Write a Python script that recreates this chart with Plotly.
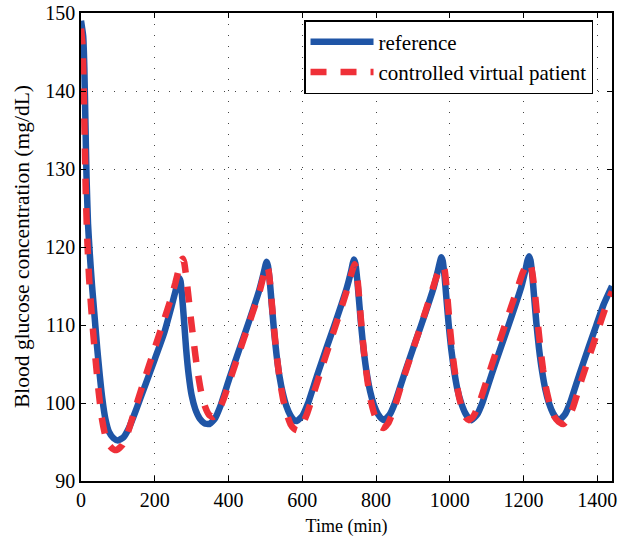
import plotly.graph_objects as go

# Reference trajectory (time in min, glucose in mg/dL)
ref_t = [0, 6, 9, 12, 15, 19, 24, 30, 37, 44, 51, 58, 66, 76, 88, 100,
         115, 130, 150, 175, 200, 225, 245, 256, 262, 267,
         270, 274, 279, 285, 292, 300, 310, 322, 335, 348,
         363, 378, 402, 428, 448, 468, 483, 494, 500, 503,
         507, 512, 517, 523, 530, 538, 547, 557, 568, 578, 586,
         601, 616, 640, 666, 686, 706, 721, 732, 737, 740,
         744, 749, 754, 760, 767, 775, 784, 794, 805, 815, 822,
         837, 852, 876, 902, 922, 942, 957, 968, 974, 977,
         981, 986, 991, 997, 1004, 1012, 1021, 1031, 1042, 1052, 1059,
         1074, 1089, 1113, 1139, 1159, 1179, 1194, 1205, 1211, 1215,
         1219, 1224, 1229, 1235, 1242, 1250, 1259, 1269, 1280, 1290, 1297,
         1312, 1327, 1351, 1377, 1397, 1417, 1440]
ref_y = [149, 147, 143, 136, 129, 123, 119, 115, 111, 107, 103.5, 100.5, 98, 96.3, 95.5, 95.2,
         95.6, 96.8, 99.2, 102.4, 105.6, 108.9, 112.3, 114.3, 115.4, 116.0,
         115.6, 113.8, 110.8, 107.0, 103.6, 101.0, 99.2, 98.0, 97.4, 97.3,
         98.0, 99.6, 103.1, 106.7, 109.4, 112.2, 114.4, 116.4, 117.6, 118.1,
         117.6, 115.6, 112.8, 109.5, 106.3, 103.5, 101.3, 99.6, 98.4, 97.8, 97.7,
         98.4, 100.0, 103.5, 107.1, 109.8, 112.6, 114.8, 116.8, 117.9, 118.4,
         117.9, 115.9, 113.1, 109.8, 106.6, 103.8, 101.5, 99.8, 98.6, 98.0, 97.8,
         98.5, 100.1, 103.6, 107.2, 109.9, 112.7, 114.9, 117.0, 118.2, 118.7,
         118.2, 116.2, 113.4, 110.1, 106.9, 104.1, 101.7, 100.0, 98.7, 98.0, 97.8,
         98.5, 100.1, 103.6, 107.2, 109.9, 112.7, 114.9, 117.0, 118.3, 118.8,
         118.3, 116.3, 113.5, 110.2, 107.0, 104.2, 101.8, 100.0, 98.7, 98.0, 97.8,
         98.5, 100.1, 103.6, 107.2, 109.9, 112.6, 115.0]

# Controlled virtual patient trajectory
vp_t = [0, 4, 7, 10, 13, 17, 22, 28, 34, 41, 48, 56, 66, 78, 90, 98,
        112, 127, 147, 172, 197, 222, 242, 256, 266, 272, 276,
        280, 285, 291, 298, 306, 315, 325, 336, 347, 358,
        372, 386, 408, 432, 452, 472, 486, 496, 500, 504,
        508, 513, 518, 524, 531, 539, 548, 558, 568, 578, 586,
        598, 612, 636, 662, 684, 704, 720, 731, 738, 742,
        746, 751, 756, 762, 769, 777, 786, 796, 806, 814, 821,
        833, 847, 870, 895, 916, 936, 952, 965, 975, 982,
        986, 991, 996, 1002, 1009, 1017, 1026, 1035, 1044, 1052,
        1064, 1078, 1101, 1126, 1147, 1167, 1183, 1197, 1208, 1216,
        1220, 1226, 1232, 1238, 1245, 1253, 1262, 1272, 1283, 1295, 1308,
        1320, 1334, 1357, 1382, 1403, 1423, 1440]
vp_y = [148, 146, 141, 134, 127, 121, 116, 112, 108.5, 104.8, 101.4, 98.2, 95.8, 94.5, 94.0, 94.0,
        94.6, 96.2, 99.3, 103.0, 106.6, 110.2, 113.1, 115.4, 117.3, 118.3, 118.5,
        118.0, 116.3, 113.8, 110.8, 107.7, 104.4, 101.6, 99.6, 98.5, 98.2,
        98.9, 100.4, 103.5, 106.9, 109.7, 112.5, 114.6, 116.5, 117.2, 117.6,
        117.1, 115.2, 112.5, 109.3, 106.0, 103.0, 100.5, 98.6, 97.3, 96.7, 96.5,
        97.0, 98.5, 102.0, 105.8, 109.0, 111.9, 114.3, 116.2, 117.3, 117.8,
        117.3, 115.3, 112.5, 109.1, 105.8, 102.8, 100.3, 98.5, 97.4, 96.9, 96.8,
        97.4, 99.0, 102.5, 106.1, 109.1, 112.0, 114.4, 116.3, 117.3, 117.6,
        117.1, 115.0, 112.2, 108.9, 105.7, 102.9, 100.6, 99.0, 98.1, 97.8,
        98.3, 99.7, 103.0, 106.6, 109.6, 112.4, 114.6, 116.6, 117.7, 118.0,
        117.7, 116.0, 113.6, 110.6, 107.4, 104.3, 101.7, 99.7, 98.3, 97.6, 97.3,
        97.9, 99.4, 102.9, 106.5, 109.5, 112.3, 114.3]

x_ticks = [0, 200, 400, 600, 800, 1000, 1200, 1400]
y_ticks = [90, 100, 110, 120, 130, 140, 150]

FONT = "Liberation Serif"

fig = go.Figure()
fig.add_trace(go.Scatter(x=ref_t, y=ref_y, mode="lines", name="reference",
                         line=dict(color="#1f55a6", width=6.5, shape="spline", smoothing=0.5)))
fig.add_trace(go.Scatter(x=vp_t, y=vp_y, mode="lines", name="controlled virtual patient",
                         line=dict(color="#ef3038", width=6.5, dash="16px,14px", shape="spline", smoothing=0.5)))

axis_common = dict(showline=True, linecolor="black", linewidth=1.5, mirror="ticks",
                   ticks="inside", ticklen=5, tickcolor="black", tickwidth=1,
                   showgrid=True, gridcolor="#444", gridwidth=1, griddash="1px,10px",
                   zeroline=False, automargin=False,
                   tickfont=dict(family=FONT, size=20, color="black"))

fig.update_xaxes(range=[0, 1440], tickvals=x_ticks,
                 title=dict(text="Time (min)", font=dict(family=FONT, size=18, color="black")),
                 **axis_common)
fig.update_yaxes(range=[90, 150], tickvals=y_ticks, **axis_common)

fig.add_annotation(text="Blood glucose concentration (mg/dL)", textangle=-90,
                   xref="paper", yref="paper", x=-0.111, y=0.5,
                   xanchor="center", yanchor="middle", showarrow=False,
                   font=dict(family=FONT, size=21.5, color="black"))

fig.update_layout(
    width=624, height=537,
    margin=dict(l=81, r=12, t=13, b=56, autoexpand=False),
    plot_bgcolor="white", paper_bgcolor="white",
    legend=dict(x=0.42, xanchor="left", y=0.985, yanchor="top",
                bgcolor="white", bordercolor="black", borderwidth=1.5,
                font=dict(family=FONT, size=21, color="black"),
                itemwidth=63, tracegroupgap=0),
    showlegend=True,
)

fig.write_html("out.html", config={"displayModeBar": False},
               post_script="document.body.style.margin='0';")
